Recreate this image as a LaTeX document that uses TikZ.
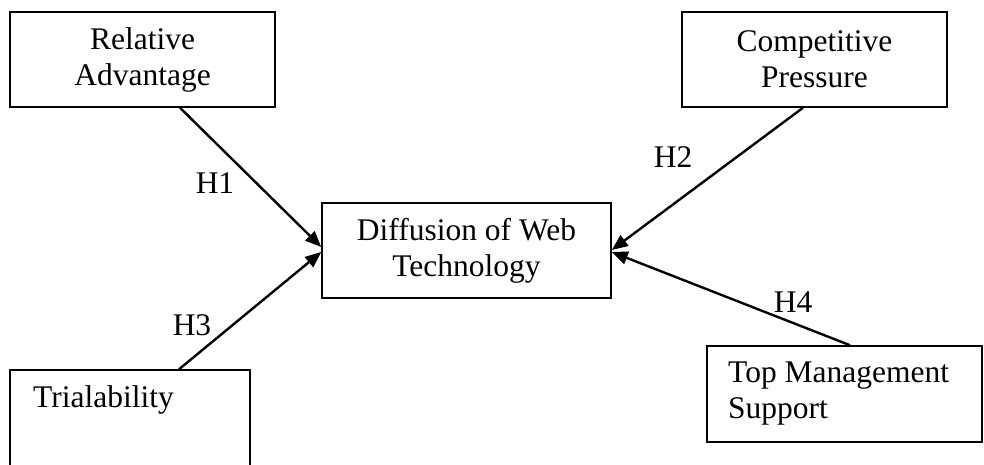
\documentclass[tikz,border=0pt]{standalone}
\usepackage{fontspec}
\setmainfont{Liberation Serif}
\usetikzlibrary{arrows.meta}
\begin{document}
\begin{tikzpicture}[x=1pt,y=-1pt,
  txt/.style={font=\fontsize{31.5}{36}\selectfont},
  box/.style={draw,line width=1.5pt,rectangle,inner sep=0pt,txt,align=center},
  conn/.style={line width=2.4pt,-{Triangle[length=16pt,width=13pt]}},
  hlab/.style={txt,inner sep=0pt}]
\useasboundingbox (0,0) rectangle (984,464);
\clip (0,0) rectangle (984,464);
\node[box,minimum width=265pt,minimum height=95pt] (ra) at (142.5,59.5) {Relative\\Advantage};
\node[box,minimum width=265pt,minimum height=95pt] (cp) at (814.5,59.5) {Competitive\\Pressure};
\node[box,minimum width=289pt,minimum height=95pt] (dwt) at (466.5,250.5) {Diffusion of Web\\Technology};
\node[box,minimum width=240pt,minimum height=110pt] (tri) at (130,425) {};
\node[hlab,anchor=west] (trit) at (33,400) {Trialability};
\node[box,minimum width=275pt,minimum height=96pt] (tms) at (844.5,394) {};
\node[hlab,anchor=west,align=left] (tmst) at (728,394) {Top Management\\Support};
\draw[conn] ([xshift=37.5pt]ra.south) -- ([yshift=3.5pt]dwt.west);
\draw[conn] ([xshift=-11.5pt]cp.south) -- ([yshift=0.5pt]dwt.east);
\draw[conn] ([xshift=49pt]tri.north) -- ([yshift=-1.5pt]dwt.west);
\draw[conn] ([xshift=5.5pt]tms.north) -- ([yshift=-1.5pt]dwt.east);
\node[hlab] (h1) at (215,183) {H1};
\node[hlab] (h2) at (673,157) {H2};
\node[hlab] (h3) at (192,325) {H3};
\node[hlab] (h4) at (793,302) {H4};
\end{tikzpicture}
\end{document}
